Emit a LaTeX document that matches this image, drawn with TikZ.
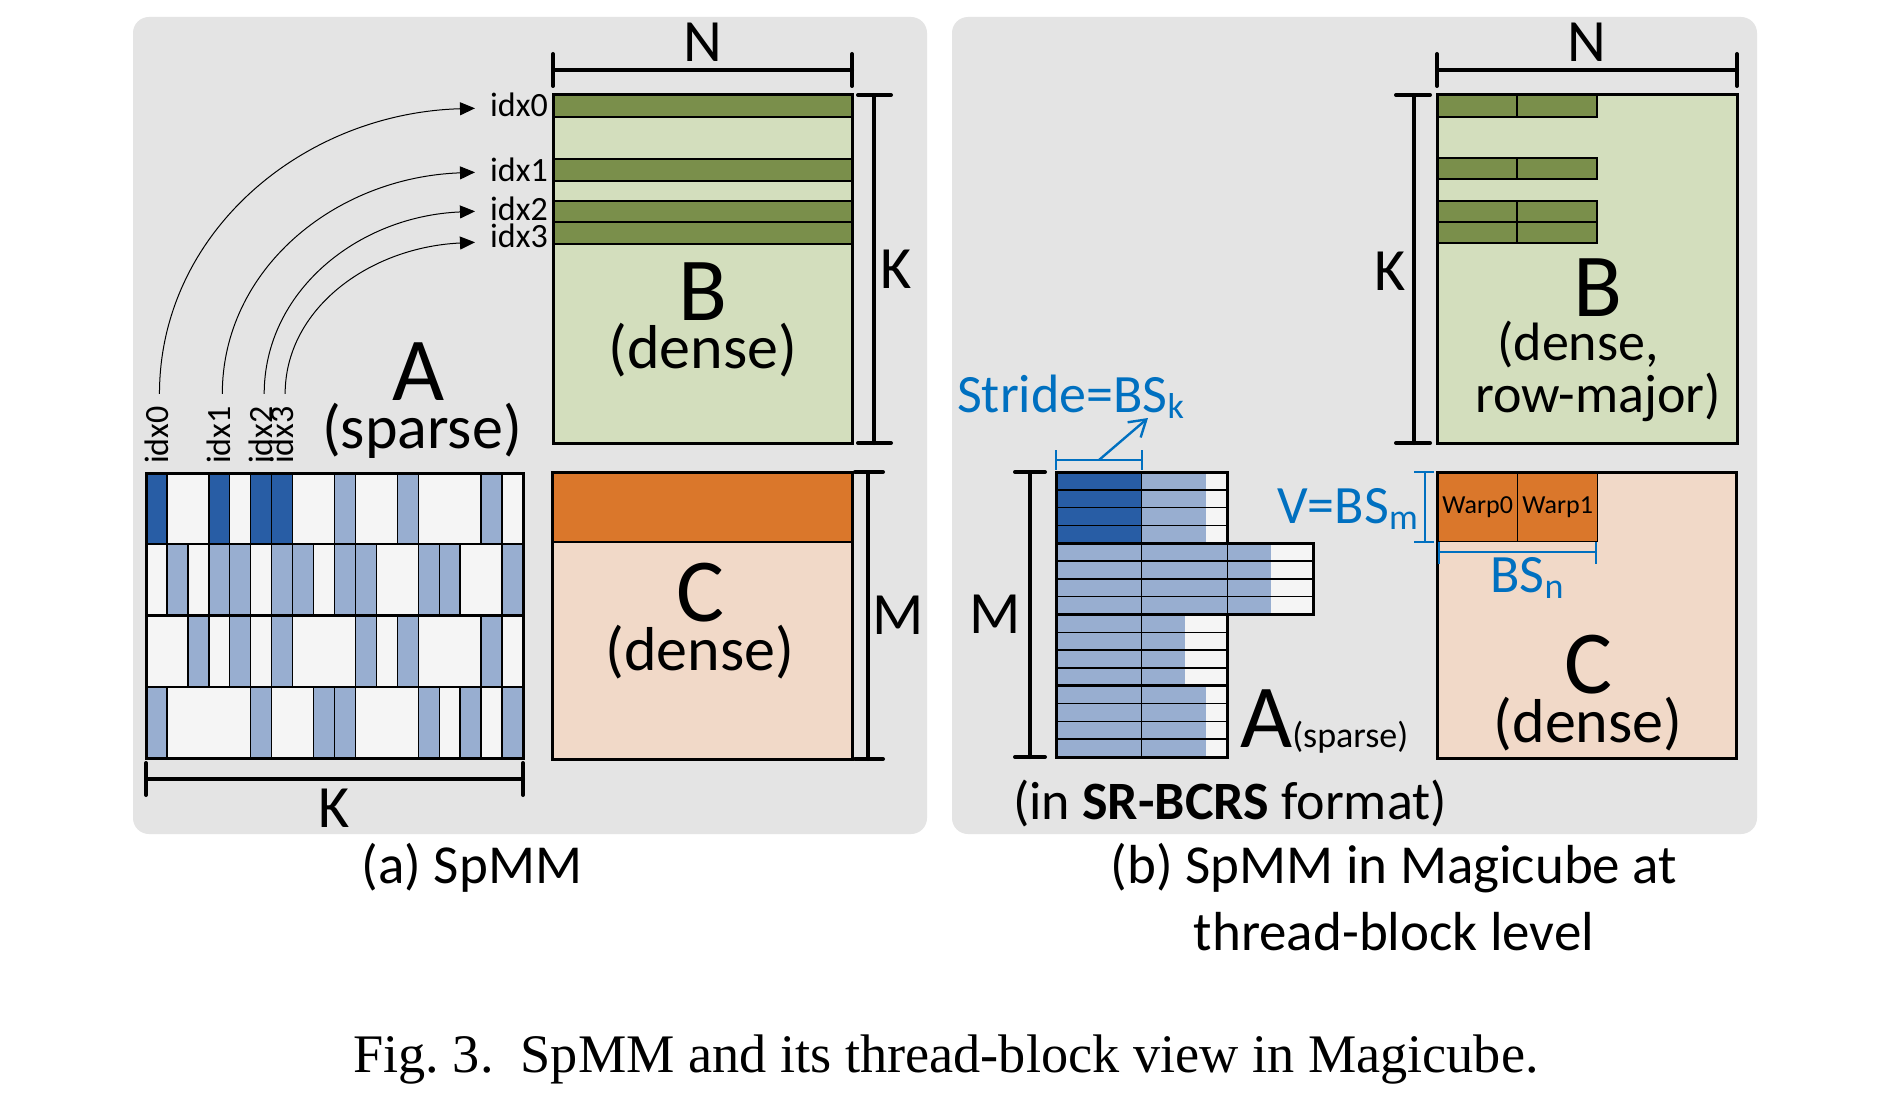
\documentclass[tikz,border=0pt]{standalone}
\usepackage{fontspec}
\setmainfont{Carlito}
\newfontfamily\captionserif{Liberation Serif}
\usetikzlibrary{positioning,arrows.meta}
\definecolor{Panel}{HTML}{E4E4E4}
\definecolor{CellWhite}{HTML}{F5F5F5}
\definecolor{SpDark}{HTML}{285DA5}
\definecolor{SpLight}{HTML}{98AED0}
\definecolor{DnDark}{HTML}{7A8F4B}
\definecolor{DnLight}{HTML}{D3DEBD}
\definecolor{OutDark}{HTML}{DA772B}
\definecolor{OutLight}{HTML}{F1D9C8}
\definecolor{Annot}{HTML}{0070C0}
\colorlet{Acell1}{SpDark}
\colorlet{Acell2}{SpLight}
\newcommand{\fsz}[2]{\fontsize{#1}{#2}\selectfont}
\newcommand{\annsub}[1]{\raisebox{-6pt}{\fsz{36}{38}#1}}

\begin{document}
\begin{tikzpicture}[
  x=1pt, y=-1pt,
  panel/.style={fill=Panel, rounded corners=16pt},
  mat/.style={draw=black, line width=3pt},
  cellbox/.style={draw=black, line width=1.4pt},
  dimbar/.style={line width=4pt, line cap=round},
  annotbar/.style={draw=Annot, line width=2.4pt},
  big/.style={font=\fsz{90}{92}, inner sep=0pt, anchor=base},
  subttl/.style={font=\fsz{62}{64}, inner sep=0pt, anchor=base},
  dimlbl/.style={font=\fsz{60}{62}, inner sep=0pt},
  idx/.style={font=\fsz{34}{36}, inner sep=0pt},
  idxarrow/.style={-{Triangle[length=15pt,width=13pt]}, line width=1pt},
  annotlbl/.style={text=Annot, font=\fsz{54}{56}, inner sep=0pt},
  plain/.style={font=\fsz{55}{57}, inner sep=0pt, anchor=base}
]
  \fill[white] (0,0) rectangle (1900,1110);
  \useasboundingbox (0,0) rectangle (1900,1110);
  \fill[panel] (133,17) rectangle (927,834);
  \fill[panel] (952,17) rectangle (1757,834);

  \begin{scope}[shift={(146,473)}]
    \fill[CellWhite] (0,0) rectangle (377,285);
    \foreach \r/\cells in {0/{1,0,0,1,0,1,1,0,0,2,0,0,2,0,0,0,2,0},
                           1/{0,2,0,2,2,0,2,2,0,2,2,0,0,2,2,0,0,2},
                           2/{0,0,2,0,2,0,2,0,0,0,2,0,2,0,0,0,2,0},
                           3/{2,0,0,0,0,2,0,0,2,2,0,0,0,2,0,2,0,2}}
      \foreach \v [count=\col from 0] in \cells {
        \ifnum\v>0
          \draw[cellbox, fill=Acell\v] ({\col*20.944},{\r*71.25}) rectangle ++(20.944,71.25);
        \fi
      };
    \foreach \r in {1,2,3}
      \draw[line width=2.2pt] (0,{\r*71.25}) -- (377,{\r*71.25});
    \draw[mat] (0,0) rectangle (377,285);
  \end{scope}

  \foreach \n/\col in {0/0,1/3,2/5,3/6}
    \node[idx, rotate=90, anchor=west] (a\n) at ({146+(\col+0.5)*20.944},464) {idx\n};

  \draw[mat, fill=DnLight] (553,95) rectangle (852,443);
  \foreach \ya/\yb in {95/117,159/181,201/222,222/244}
    \draw[cellbox, fill=DnDark] (553,\ya) rectangle (852,\yb);
  \draw[mat] (553,95) rectangle (852,443);
  \foreach \n/\y in {0/117,1/182,2/220,3/247}
    \node[idx, anchor=base east] (b\n) at (548,\y) {idx\n};
  \foreach \n/\dy/\dx/\ey in {0/160/174/3pt,1/124/141/2pt,2/102/118/3pt,3/85/106/7pt}
    \draw[idxarrow] ([xshift=3pt,yshift=12pt]a\n.east) .. controls +(0,-\dy) and +(-\dx,5) .. ([xshift=-15pt,yshift=-\ey]b\n.west);

  \draw[dimbar] (553,54) -- (553,86) (553,70) -- (852,70) (852,54) -- (852,86);
  \coordinate (nLmid) at (702.5,70);
  \node[dimlbl, above=8pt of nLmid] (nL) {N};
  \draw[dimbar] (858,95) -- (891,95) (874,95) -- (874,443) (858,443) -- (891,443);
  \coordinate (kBmid) at (874,269);
  \node[dimlbl, right=6pt of kBmid] (kB) {K};

  \node[big] (bL) at (703,320) {B};
  \node[subttl, below=48pt of bL.base, anchor=base] (bLs) {(dense)};
  \node[big] (aL) at (419,400) {A};
  \node[subttl, below=48pt of aL.base, anchor=base, xshift=3pt] (aLs) {(sparse)};

  \draw[dimbar] (146,763) -- (146,795) (146,779) -- (523,779) (523,763) -- (523,795);
  \coordinate (kAmid) at (334.5,779);
  \node[dimlbl, below=10pt of kAmid] (kA) {K};

  \draw[mat, fill=OutLight] (552,472) rectangle (852,759);
  \draw[cellbox, fill=OutDark] (552,472) rectangle (852,542);
  \draw[mat] (552,472) rectangle (852,759);
  \draw[dimbar] (855,472) -- (883,472) (868,472) -- (868,759) (855,759) -- (883,759);
  \coordinate (mCmid) at (868,615.5);
  \node[dimlbl, right=4pt of mCmid] (mC) {M};
  \node[big] (cL) at (700,621) {C};
  \node[subttl, below=49pt of cL.base, anchor=base] (cLs) {(dense)};

  \node[plain] (capA) at (472,883) {(a) SpMM};

  \draw[mat, fill=DnLight] (1437,95) rectangle (1737,443);
  \foreach \ya/\yb in {95/117,158/179,201/222,222/243}
    \foreach \xa in {1437,1517}
      \draw[cellbox, fill=DnDark] (\xa,\ya) rectangle ++(80,{\yb-\ya});
  \draw[mat] (1437,95) rectangle (1737,443);
  \draw[dimbar] (1437,54) -- (1437,86) (1437,70) -- (1737,70) (1737,54) -- (1737,86);
  \coordinate (nRmid) at (1587,70);
  \node[dimlbl, above=8pt of nRmid] (nR) {N};
  \draw[dimbar] (1396,95) -- (1430,95) (1414,95) -- (1414,443) (1396,443) -- (1430,443);
  \coordinate (kRmid) at (1414,271);
  \node[dimlbl, left=8pt of kRmid] (kR) {K};
  \node[big] (bR) at (1598,316) {B};
  \node[subttl, font=\fsz{54}{56}] (bRs1) at (1578,360) {(dense,};
  \node[subttl, font=\fsz{54}{56}, below=52pt of bRs1.base, anchor=base, xshift=20pt] (bRs2) {row-major)};

  \begin{scope}[shift={(1056,472)}]
    \foreach \g/\col/\fr/\clr in {0/0/1/SpDark,0/1/0.75/SpLight,1/0/1/SpLight,1/1/1/SpLight,1/2/0.51/SpLight,
                                  2/0/1/SpLight,2/1/0.5/SpLight,3/0/1/SpLight,3/1/0.75/SpLight} {
      \fill[CellWhite] ({\col*85.67},{\g*71.25}) rectangle ++(85.67,71.25);
      \fill[\clr] ({\col*85.67},{\g*71.25}) rectangle ++({\fr*85.67},71.25);
      \foreach \k in {0,...,3}
        \draw[cellbox] ({\col*85.67},{\g*71.25+\k*17.8125}) rectangle ++(85.67,17.8125);
    }
    \foreach \g/\nc in {0/2,1/3,2/2,3/2}
      \draw[mat] (0,{\g*71.25}) rectangle ({\nc*85.67},{(\g+1)*71.25});
  \end{scope}
  \draw[dimbar] (1015,472) -- (1045,472) (1030,472) -- (1030,757) (1015,757) -- (1045,757);
  \coordinate (mAmid) at (1030,614.5);
  \node[dimlbl, left=9pt of mAmid] (mA) {M};
  \node[big, anchor=base west] (aR) at (1240,747) {A\fsz{36}{38}(sparse)};

  \draw[annotbar] (1056,450) -- (1056,470) (1056,460) -- (1142,460) (1142,450) -- (1142,470);
  \coordinate (strideMid) at (1099,460);
  \coordinate (strideTip) at (1148,418);
  \draw[annotbar, -{Straight Barb[length=16pt,width=20pt,line width=2.4pt]}] (strideMid) -- (strideTip);
  \node[annotlbl, anchor=base west] (strideLbl) at (957,412) {Stride=BS\annsub{k}};

  \draw[mat, fill=OutLight] (1437,472) rectangle (1736,758);
  \foreach \w/\xa in {0/1437,1/1517}
    \node[draw=black, line width=1.4pt, fill=OutDark, minimum width=80pt, minimum height=69pt,
          anchor=north west, inner sep=0pt, font=\fsz{26}{28}] (warp\w) at (\xa,472) {\raisebox{-3pt}{Warp\w}};
  \draw[mat] (1437,472) rectangle (1736,758);
  \draw[annotbar] (1414,472) -- (1434,472) (1425,472) -- (1425,542) (1414,542) -- (1434,542);
  \node[annotlbl, anchor=base east] (vLbl) at (1418,523) {V=BS\annsub{m}};
  \draw[annotbar] (1439,542) -- (1439,564) (1439,552) -- (1596,552) (1596,542) -- (1596,564);
  \coordinate (bsnMid) at (1517,552);
  \node[annotlbl, below=5pt of bsnMid, xshift=10pt] (bsnLbl) {BS\annsub{n}};
  \node[big] (cR) at (1588,693) {C};
  \node[subttl, below=49pt of cR.base, anchor=base] (cRs) {(dense)};

  \node[plain, font=\fsz{54}{56}] (fmt) at (1230,819) {(in \textbf{SR-BCRS} format)};
  \node[plain] (capB1) at (1394,883) {(b) SpMM in Magicube at};
  \node[plain, below=67pt of capB1.base, anchor=base] (capB2) {thread-block level};
  \node[font=\captionserif\fsz{54.3}{56}, inner sep=0pt, anchor=base] (figcap) at (946,1072)
    {Fig.~3.\ \ SpMM and its thread-block view in Magicube.};
\end{tikzpicture}
\end{document}
